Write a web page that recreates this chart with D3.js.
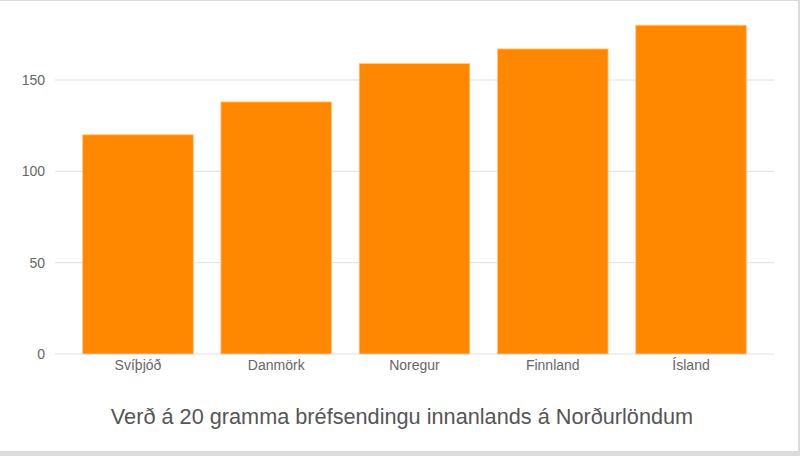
<!DOCTYPE html>
<html>
<head>
<meta charset="utf-8">
<script src="https://cdn.jsdelivr.net/npm/d3@7"></script>
<style>
  html, body { margin: 0; padding: 0; background: #dcdcdc; }
  svg { display: block; }
  text { font-family: "Liberation Sans", Arial, sans-serif; }
</style>
</head>
<body>
<div id="chart"></div>
<script>
// data
var countries = ["Svíþjóð", "Danmörk", "Noregur", "Finnland", "Ísland"];
var prices = [120, 138, 159, 167, 180];
var yTicks = [0, 50, 100, 150];
var chartTitle = "Verð á 20 gramma bréfsendingu innanlands á Norðurlöndum";

function BarChart() {
  var svgWidth = 800;
  var svgHeight = 456;

  var margin = { top: 25, right: 26, bottom: 102, left: 55 };
  var width = 774 - margin.left;
  var height = 354 - margin.top;

  var svg = d3.select("#chart")
    .append("svg")
    .attr("width", svgWidth)
    .attr("height", svgHeight);

  // white card with light grey frame
  svg.append("rect")
    .attr("x", 0).attr("y", 1)
    .attr("width", 798).attr("height", 450)
    .attr("fill", "#fff");

  var g = svg.append("g")
    .attr("transform", `translate(${margin.left}, ${margin.top})`);

  var x = d3.scaleBand()
    .domain(countries)
    .range([0, width])
    .padding(0.2);

  // 150 units = 274px
  var y = d3.scaleLinear()
    .domain([0, 150])
    .range([height, height - 274]);

  // gridlines
  g.append("g")
    .selectAll("line")
    .data(yTicks)
    .enter()
    .append("line")
    .attr("x1", 0)
    .attr("x2", width)
    .attr("y1", d => y(d))
    .attr("y2", d => y(d))
    .attr("stroke", "#e0e0e0")
    .attr("stroke-width", 1);

  // y axis labels
  var yAxis = d3.axisLeft(y).tickValues(yTicks).tickSize(0).tickPadding(10);
  var yg = g.append("g").call(yAxis);
  yg.select(".domain").remove();
  yg.selectAll("text")
    .attr("fill", "#666")
    .attr("font-size", "14px")
    .style("font-family", "Liberation Sans, Arial, sans-serif");

  // bars
  g.selectAll("rect.bar")
    .data(countries)
    .enter()
    .append("rect")
    .attr("class", "bar")
    .attr("x", d => x(d))
    .attr("y", (d, i) => y(prices[i]))
    .attr("width", x.bandwidth())
    .attr("height", (d, i) => y(0) - y(prices[i]))
    .attr("fill", "#ff8800")
    .attr("stroke", "#ffc890")
    .attr("stroke-width", 0.8);

  // x axis labels
  var xAxis = d3.axisBottom(x).tickSize(0).tickPadding(6);
  var xg = g.append("g")
    .attr("transform", `translate(0, ${height})`)
    .call(xAxis);
  xg.select(".domain").remove();
  xg.selectAll("text")
    .attr("fill", "#666")
    .attr("font-size", "14px")
    .style("font-family", "Liberation Sans, Arial, sans-serif");

  // title
  svg.append("text")
    .attr("x", 402)
    .attr("y", 424)
    .attr("text-anchor", "middle")
    .attr("font-size", "21.7px")
    .attr("fill", "#555")
    .text(chartTitle);
}

BarChart();
</script>
</body>
</html>
